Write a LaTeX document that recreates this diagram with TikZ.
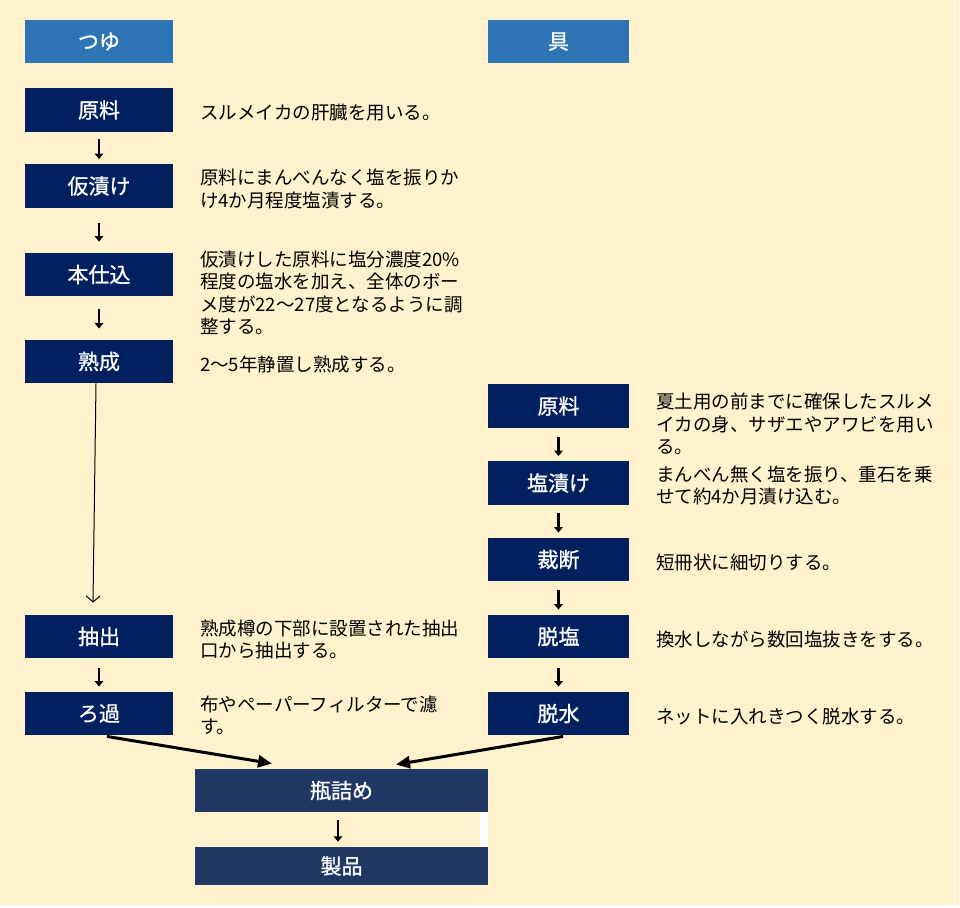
\documentclass[tikz,border=0pt]{standalone}
\usepackage{fontspec}
\setmainfont{Noto Sans CJK JP}
\newfontfamily\lblfont{Noto Sans CJK JP}[AutoFakeBold=1]
\usetikzlibrary{arrows.meta}
\definecolor{bgc}{HTML}{FFF2CC}
\definecolor{navy}{HTML}{002060}
\definecolor{navyb}{HTML}{203864}
\definecolor{hblue}{HTML}{2E75B6}
\newcommand{\lb}[1]{\raisebox{-2pt}{#1}}
\tikzset{
 boxL/.style={fill=navy, text=white, minimum width=148pt, minimum height=43.5pt, inner sep=0, font=\lblfont\bfseries\fontsize{21}{24}\selectfont},
 boxR/.style={boxL, minimum width=141pt},
 hdrL/.style={boxL, fill=hblue},
 hdrR/.style={boxR, fill=hblue},
 bottlebox/.style={boxL, fill=navyb, minimum width=293pt},
 txt/.style={anchor=west, align=left, inner sep=0, font=\fontsize{18.5}{22.5}\selectfont},
 sarrow/.style={line width=2.6pt, -{Triangle[length=5.5pt,width=8.5pt]}},
 barrow/.style={line width=3pt, -{Triangle[length=14pt,width=12pt]}},
 larrow/.style={line width=1pt, -{Straight Barb[length=6pt,width=14pt]}}
}
\begin{document}
\begin{tikzpicture}[x=1pt,y=-1pt]
\useasboundingbox (0,0) rectangle (960,907);
\fill[white] (0,0) rectangle (960,907);
\fill[bgc] (0,0) rectangle (959,905);

% headers
\node[hdrL] (hL) at (99,41.5) {\lb{つゆ}};
\node[hdrR] (hR) at (558.5,41.5) {\lb{具}};

% left column (tsuyu)
\node[boxL] (l1) at (99,110) {\lb{原料}};
\node[boxL] (l2) at (99,186) {\lb{仮漬け}};
\node[boxL] (l3) at (99,274.5) {\lb{本仕込}};
\node[boxL] (l4) at (99,361.5) {\lb{熟成}};
\node[boxL] (l5) at (99,636.5) {\lb{抽出}};
\node[boxL] (l6) at (99,713.5) {\lb{ろ過}};

% right column (gu)
\node[boxR] (r1) at (558.5,406) {\lb{原料}};
\node[boxR] (r2) at (558.5,483) {\lb{塩漬け}};
\node[boxR] (r3) at (558.5,559.5) {\lb{裁断}};
\node[boxR] (r4) at (558.5,636.5) {\lb{脱塩}};
\node[boxR] (r5) at (558.5,713.5) {\lb{脱水}};

% bottom
\node[bottlebox] (b1) at (341.5,790.5) {\lb{瓶詰め}};
\node[bottlebox, minimum height=38pt] (b2) at (341.5,866) {\lb{製品}};
\fill[white] (480,812) rectangle (488,847);

% descriptions
\node[txt] (t1) at (200,112.5) {スルメイカの肝臓を用いる。};
\node[txt] (t2) at (200,189) {原料にまんべんなく塩を振りか\\け4か月程度塩漬する。};
\node[txt] (t3) at (200,293) {仮漬けした原料に塩分濃度20\%\\程度の塩水を加え、全体のボー\\メ度が22〜27度となるように調\\整する。};
\node[txt] (t4) at (200,364) {2〜5年静置し熟成する。};
\node[txt] (t5) at (200,639.5) {熟成樽の下部に設置された抽出\\口から抽出する。};
\node[txt] (t6) at (200,715.5) {布やペーパーフィルターで濾\\す。};

\node[txt] (u1) at (656,424) {夏土用の前までに確保したスルメ\\イカの身、サザエやアワビを用い\\る。};
\node[txt] (u2) at (656,485.5) {まんべん無く塩を振り、重石を乗\\せて約4か月漬け込む。};
\node[txt] (u3) at (656,562) {短冊状に細切りする。};
\node[txt] (u4) at (656,639) {換水しながら数回塩抜きをする。};
\node[txt] (u5) at (656,716) {ネットに入れきつく脱水する。};

% short arrows
\draw[sarrow, shorten <=7pt, shorten >=5pt] (l1) -- (l2);
\draw[sarrow, shorten <=15pt, shorten >=11pt] (l2) -- (l3);
\draw[sarrow, shorten <=13pt, shorten >=11pt] (l3) -- (l4);
\draw[sarrow, shorten <=10pt, shorten >=5pt] (l5) -- (l6);
\draw[sarrow, shorten <=9pt, shorten >=5pt] (r1) -- (r2);
\draw[sarrow, shorten <=8pt, shorten >=5pt] (r2) -- (r3);
\draw[sarrow, shorten <=9pt, shorten >=5pt] (r3) -- (r4);
\draw[sarrow, shorten <=10pt, shorten >=5pt] (r4) -- (r5);
\draw[sarrow, shorten <=8pt, shorten >=5pt] ([xshift=-3.5pt]b1.south) -- ([xshift=-3.5pt]b2.north);

% long arrow
\draw[larrow] ([xshift=-3pt]l4.south) -- ([xshift=-6pt,yshift=12pt]l5.north);

% bold arrows
\draw[barrow] ([xshift=8pt,yshift=-1pt]l6.south) -- ([xshift=-69.5pt,yshift=5pt]b1.north);
\draw[barrow] ([xshift=4.5pt,yshift=-1pt]r5.south) -- ([xshift=54.5pt,yshift=4pt]b1.north);
\end{tikzpicture}
\end{document}
